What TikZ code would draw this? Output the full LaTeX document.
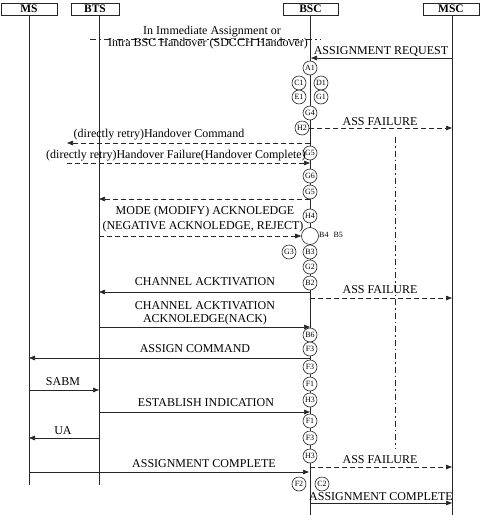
\documentclass[tikz,border=0pt]{standalone}
\usepackage{fontspec}
\setmainfont{Liberation Serif}
\usetikzlibrary{arrows.meta}
\begin{document}
\begin{tikzpicture}[x=1pt,y=-1pt,
  ln/.style={line width=0.7pt,draw=black!85},
  msg/.style={ln,-{Triangle[length=6pt,width=4.5pt]}},
  dmsg/.style={msg,dash pattern=on 5pt off 3pt},
  hdr/.style={draw=black!85,line width=0.7pt,minimum height=12pt,inner sep=0pt,font=\fontsize{11.5}{12}\selectfont\bfseries},
  lbl/.style={inner sep=0pt,font=\fontsize{12}{13}\selectfont},
  circ/.style={circle,draw=black!85,line width=0.6pt,fill=white,minimum size=14pt,inner sep=0pt,font=\fontsize{8}{9}\selectfont},
  small/.style={inner sep=0pt,font=\fontsize{8}{9}\selectfont}]
\useasboundingbox (0,0) rectangle (480,515);
% headers
\node[hdr,minimum width=56pt] (MS) at (29,9) {MS};
\node[hdr,minimum width=48pt] (BTS) at (95,9) {BTS};
\node[hdr,minimum width=55pt] (BSC) at (310.5,9) {BSC};
\node[hdr,minimum width=56pt] (MSC) at (451,9) {MSC};
% lifelines
\coordinate (msT) at (29,15);  \coordinate (msB) at (29,485);
\coordinate (btsT) at (99,15); \coordinate (btsB) at (99,485);
\coordinate (bscT) at (310,15); \coordinate (bscB) at (310,515);
\coordinate (mscT) at (452,15); \coordinate (mscB) at (452,515);
\draw[ln] (msT) -- (msB);
\draw[ln] (btsT) -- (btsB);
\draw[ln] (bscT) -- (bscB);
\draw[ln] (mscT) -- (mscB);
% dash-dot guide lines
\coordinate (ddL) at (90,39); \coordinate (ddR) at (320,39);
\draw[ln,dash pattern=on 6pt off 3pt on 1.5pt off 3pt] (ddL) -- (ddR);
\coordinate (vdT) at (395,137); \coordinate (vdB) at (395,449);
\draw[ln,dash pattern=on 6pt off 3pt on 1.5pt off 3pt] (vdT) -- (vdB);
\node[lbl] (t1) at (212,32) {In Immediate Assignment or};
\node[lbl] (t2) at (208,44) {Intra BSC Handover (SDCCH Handover)};
% circles
\node[circ] (A1) at (310,68) {A1};
\node[circ] (C1) at (299,83) {C1};
\node[circ] (D1) at (321,83) {D1};
\node[circ] (E1) at (299,97) {E1};
\node[circ] (G1) at (321,97) {G1};
\node[circ] (G4) at (310,113) {G4};
\node[circ] (H2) at (302,128) {H2};
\node[circ] (G5) at (310,153) {G5};
\node[circ] (G6) at (310,176) {G6};
\node[circ] (G5b) at (310,192) {G5};
\node[circ] (H4) at (310,216) {H4};
\node[circ,minimum size=17pt] (B45) at (310,236) {};
\node[small,anchor=west] (b45l) at (319,235) {B4\hspace{5pt}B5};
\node[circ] (G3) at (289,252) {G3};
\node[circ] (B3) at (310,252) {B3};
\node[circ] (G2) at (310,267) {G2};
\node[circ] (B2) at (310,283) {B2};
\node[circ] (B6) at (310,335) {B6};
\node[circ] (F3) at (310,349) {F3};
\node[circ] (F3b) at (310,367) {F3};
\node[circ] (F1) at (310,384) {F1};
\node[circ] (H3) at (310,400) {H3};
\node[circ] (F1b) at (310,421) {F1};
\node[circ] (F3c) at (310,438) {F3};
\node[circ] (H3b) at (310,456) {H3};
\node[circ] (F2) at (299,484) {F2};
\node[circ] (C2) at (322,484) {C2};
% message endpoints
\coordinate (m1a) at (452,58);  \coordinate (m1b) at (311,58);
\coordinate (m2b) at (452,128);
\coordinate (m3a) at (310,143); \coordinate (m3b) at (67,143);
\coordinate (m4a) at (67,163);  \coordinate (m4b) at (310,163);
\coordinate (m5a) at (310,199); \coordinate (m5b) at (99,199);
\coordinate (m6a) at (99,236);
\coordinate (m7a) at (310,292); \coordinate (m7b) at (99,292);
\coordinate (m8a) at (310,298); \coordinate (m8b) at (452,298);
\coordinate (m9a) at (99,327);  \coordinate (m9b) at (310,327);
\coordinate (m10a) at (310,358); \coordinate (m10b) at (29,358);
\coordinate (m11a) at (29,390); \coordinate (m11b) at (99,390);
\coordinate (m12a) at (99,412); \coordinate (m12b) at (310,412);
\coordinate (m13a) at (99,438); \coordinate (m13b) at (29,438);
\coordinate (m14a) at (29,472); \coordinate (m14b) at (309,472);
\coordinate (m15a) at (310,467); \coordinate (m15b) at (452,467);
\coordinate (m16a) at (310,503); \coordinate (m16b) at (452,503);
% messages
\draw[msg] (m1a) -- (m1b);
\node[lbl] (l1) at (381,51) {ASSIGNMENT REQUEST};
\draw[dmsg] (H2.east) -- (m2b);
\node[lbl] (l2) at (380,122) {ASS FAILURE};
\draw[dmsg] (m3a) -- (m3b);
\node[lbl] (l3) at (159,135) {(directly retry)Handover Command};
\draw[dmsg] (m4a) -- (m4b);
\node[lbl] (l4) at (176,156) {(directly retry)Handover Failure(Handover Complete)};
\draw[dmsg] (m5a) -- (m5b);
\draw[dmsg] (m6a) -- (B45.west);
\node[lbl] (l6a) at (205,212) {MODE (MODIFY) ACKNOLEDGE};
\node[lbl] (l6b) at (203,227) {(NEGATIVE ACKNOLEDGE, REJECT)};
\draw[msg] (m7a) -- (m7b);
\node[lbl] (l7) at (205,282) {CHANNEL ACKTIVATION};
\draw[dmsg] (m8a) -- (m8b);
\node[lbl] (l8) at (380,290) {ASS FAILURE};
\draw[msg] (m9a) -- (m9b);
\node[lbl] (l9a) at (205,306) {CHANNEL ACKTIVATION};
\node[lbl] (l9b) at (205,320) {ACKNOLEDGE(NACK)};
\draw[msg] (m10a) -- (m10b);
\node[lbl] (l10) at (195,349) {ASSIGN COMMAND};
\draw[msg] (m11a) -- (m11b);
\node[lbl] (l11) at (63,382) {SABM};
\draw[msg] (m12a) -- (m12b);
\node[lbl] (l12) at (206,403) {ESTABLISH INDICATION};
\draw[msg] (m13a) -- (m13b);
\node[lbl] (l13) at (63,431) {UA};
\draw[msg] (m14a) -- (m14b);
\node[lbl] (l14) at (204,464) {ASSIGNMENT COMPLETE};
\draw[dmsg] (m15a) -- (m15b);
\node[lbl] (l15) at (380,460) {ASS FAILURE};
\draw[msg] (m16a) -- (m16b);
\node[lbl] (l16) at (381,497) {ASSIGNMENT COMPLETE};
\end{tikzpicture}
\end{document}
